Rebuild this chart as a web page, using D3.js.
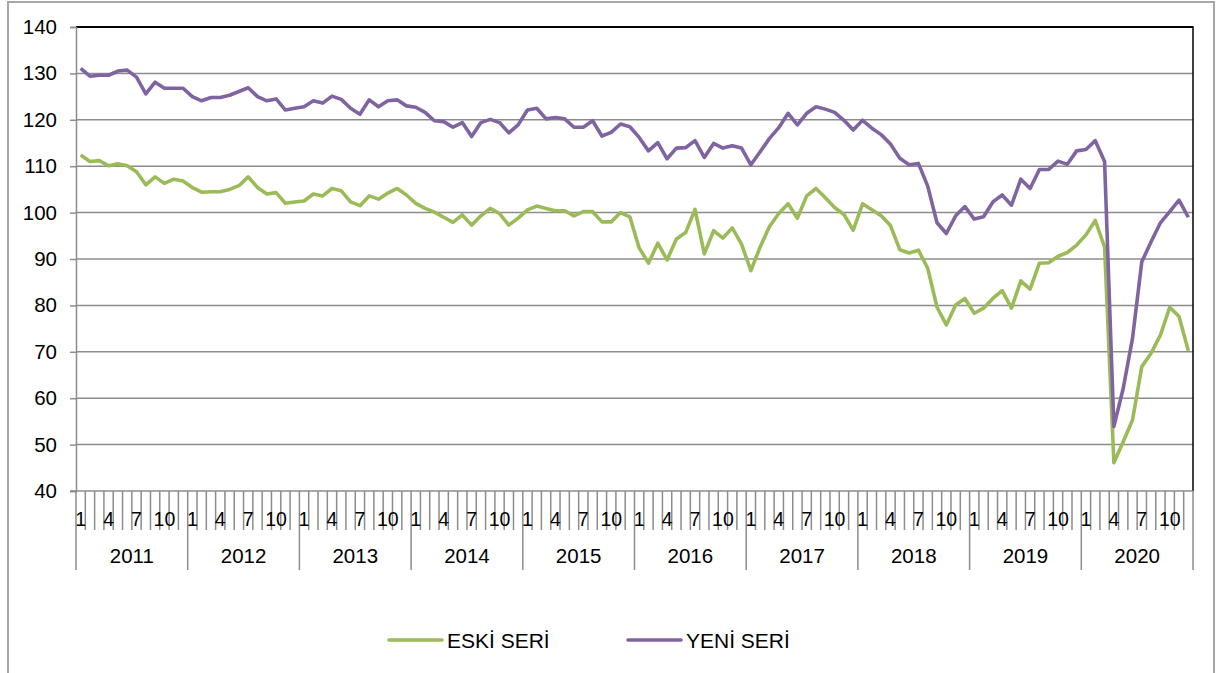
<!DOCTYPE html>
<html>
<head>
<meta charset="utf-8">
<script src="https://cdn.jsdelivr.net/npm/d3@7"></script>
<style>
  body { margin: 0; background: #fff; }
  svg text { font-family: "Liberation Sans", Arial, sans-serif; fill: #000; }
</style>
</head>
<body>
<div id="chart"></div>
<script>
// ||================================||
// || DATA                           ||
// ||================================||

var years = ["2011", "2012", "2013", "2014", "2015", "2016", "2017", "2018", "2019", "2020"];
var monthLabels = ["1", "", "", "4", "", "", "7", "", "", "10", "", ""];
var yTicks = [40, 50, 60, 70, 80, 90, 100, 110, 120, 130, 140];

var eskiSeri = [
  112.4, 111.0, 111.2, 110.1, 110.5, 110.1, 108.8, 106.0, 107.7, 106.3, 107.2, 106.8,
  105.4, 104.4, 104.5, 104.5, 105.0, 105.8, 107.7, 105.4, 104.0, 104.3, 102.0, 102.3,
  102.5, 104.0, 103.6, 105.2, 104.7, 102.3, 101.5, 103.6, 102.9, 104.2, 105.2, 103.8,
  102.0, 100.9, 100.1, 99.0, 97.9, 99.5, 97.3, 99.3, 100.9, 99.8, 97.3, 98.8,
  100.6, 101.4, 100.9, 100.4, 100.4, 99.3, 100.2, 100.2, 98.0, 98.0, 100.0, 99.1,
  92.4, 89.1, 93.4, 89.8, 94.3, 95.7, 100.7, 91.1, 96.1, 94.5, 96.7, 93.2,
  87.5, 92.6, 97.0, 99.8, 101.9, 98.8, 103.6, 105.2, 103.2, 101.1, 99.6, 96.2,
  101.9, 100.6, 99.3, 97.2, 92.0, 91.3, 91.9, 88.0, 79.6, 75.8, 80.1, 81.5,
  78.3, 79.4, 81.5, 83.2, 79.4, 85.3, 83.5, 89.1, 89.2, 90.6, 91.4, 93.0,
  95.2, 98.3, 92.6, 46.1, 50.6, 55.3, 66.8, 69.7, 73.6, 79.6, 77.6, 70.2
];

var yeniSeri = [
  131.1, 129.4, 129.6, 129.6, 130.5, 130.7, 129.2, 125.6, 128.1, 126.8, 126.8, 126.8,
  125.0, 124.1, 124.8, 124.8, 125.3, 126.1, 126.9, 125.0, 124.1, 124.5, 122.1, 122.5,
  122.8, 124.1, 123.6, 125.1, 124.4, 122.5, 121.2, 124.3, 122.8, 124.1, 124.3, 123.0,
  122.7, 121.6, 119.8, 119.6, 118.4, 119.4, 116.4, 119.4, 120.1, 119.4, 117.2, 118.9,
  122.1, 122.5, 120.2, 120.5, 120.2, 118.4, 118.4, 119.8, 116.5, 117.3, 119.1, 118.5,
  116.2, 113.3, 115.1, 111.6, 113.9, 114.0, 115.5, 111.9, 114.9, 113.9, 114.4, 113.9,
  110.3, 113.1, 116.0, 118.3, 121.4, 118.9, 121.4, 122.8, 122.3, 121.6, 119.9, 117.8,
  119.9, 118.2, 116.8, 114.8, 111.7, 110.3, 110.6, 105.7, 97.8, 95.5, 99.3, 101.3,
  98.6, 99.1, 102.3, 103.8, 101.6, 107.2, 105.2, 109.3, 109.3, 111.1, 110.4, 113.3,
  113.6, 115.5, 111.0, 53.9, 62.1, 72.9, 89.4, 93.7, 97.8, 100.2, 102.7, 99.0
];

var seriesNames = ["ESKİ SERİ", "YENİ SERİ"];
var seriesColors = ["#9bbb59", "#8064a2"];

// ||================================||
// || LAYOUT                         ||
// ||================================||

var width = 1218,
    height = 673;

var plot = { left: 76, right: 1193, top: 27, bottom: 491 };

var svg = d3.select("#chart")
  .append("svg")
    .attr("width", width)
    .attr("height", height);

// outer chart border (runs off the bottom of the picture)
svg.append("rect")
    .attr("x", 8)
    .attr("y", 2)
    .attr("width", 1206)
    .attr("height", 700)
    .attr("fill", "none")
    .attr("stroke", "#a6a6a6")
    .attr("stroke-width", 2);

var months = d3.range(eskiSeri.length);

var x = d3.scaleBand()
    .domain(months)
    .range([plot.left, plot.right])
    .padding(0);

var y = d3.scaleLinear()
    .domain([40, 140])
    .range([plot.bottom, plot.top]);

function cx(i) { return x(i) + x.bandwidth() / 2; }

// gridlines
svg.append("g")
  .selectAll("line")
  .data(yTicks.slice(1, -1))
  .enter().append("line")
    .attr("x1", plot.left)
    .attr("x2", plot.right)
    .attr("y1", function(d) { return y(d); })
    .attr("y2", function(d) { return y(d); })
    .attr("stroke", "#8c8c8c")
    .attr("stroke-width", 1.5);

// top / right plot border in black
svg.append("line")
    .attr("x1", plot.left).attr("x2", plot.right + 0.5)
    .attr("y1", plot.top).attr("y2", plot.top)
    .attr("stroke", "#000").attr("stroke-width", 2);
svg.append("line")
    .attr("x1", plot.right).attr("x2", plot.right)
    .attr("y1", plot.top).attr("y2", plot.bottom)
    .attr("stroke", "#000").attr("stroke-width", 1.5);

// y axis
var yAxis = svg.append("g")
    .attr("transform", "translate(" + plot.left + ",0)")
    .call(d3.axisLeft(y).tickValues(yTicks).tickSize(6).tickPadding(13));

yAxis.select(".domain").attr("stroke", "#8c8c8c").attr("stroke-width", 1.5);
yAxis.selectAll(".tick line").attr("stroke", "#8c8c8c").attr("stroke-width", 1.5);
yAxis.selectAll(".tick text")
    .attr("font-size", 20.5)
    .attr("font-family", "Liberation Sans, Arial, sans-serif")
    .attr("fill", "#000");

// x axis: month level
var xAxis = svg.append("g");

xAxis.append("line")
    .attr("x1", plot.left - 6).attr("x2", plot.right)
    .attr("y1", plot.bottom).attr("y2", plot.bottom)
    .attr("stroke", "#8c8c8c").attr("stroke-width", 1.5);

xAxis.selectAll(".mtick")
  .data(months.concat([months.length]))
  .enter().append("line")
    .attr("class", "mtick")
    .attr("x1", function(i) { return i < months.length ? x(i) : plot.right; })
    .attr("x2", function(i) { return i < months.length ? x(i) : plot.right; })
    .attr("y1", plot.bottom)
    .attr("y2", function(i) { return i % 12 == 0 ? 570 : 530; })
    .attr("stroke", "#8c8c8c")
    .attr("stroke-width", 1.5);

xAxis.selectAll(".mlabel")
  .data(months.filter(function(i) { return monthLabels[i % 12] != ""; }))
  .enter().append("text")
    .attr("class", "mlabel")
    .attr("x", function(i) { return cx(i); })
    .attr("y", 526)
    .attr("text-anchor", "middle")
    .attr("font-size", 19.5)
    .text(function(i) { return monthLabels[i % 12]; });

// x axis: year level
xAxis.selectAll(".ylabel")
  .data(years)
  .enter().append("text")
    .attr("class", "ylabel")
    .attr("x", function(d, k) { return (x(k * 12) + x(k * 12 + 11) + x.bandwidth()) / 2; })
    .attr("y", 563)
    .attr("text-anchor", "middle")
    .attr("font-size", 20.5)
    .text(function(d) { return d; });

// ||================================||
// || LINES                          ||
// ||================================||

var line = d3.line()
    .x(function(d, i) { return cx(i); })
    .y(function(d) { return y(d); });

[eskiSeri, yeniSeri].forEach(function(s, k) {
  svg.append("path")
      .datum(s)
      .attr("d", line)
      .attr("fill", "none")
      .attr("stroke", seriesColors[k])
      .attr("stroke-width", 3.6)
      .attr("stroke-linejoin", "round");
});

// ||================================||
// || LEGEND                         ||
// ||================================||

var legendX = [389, 628];

var legend = svg.selectAll(".legend")
  .data(seriesNames)
  .enter().append("g")
    .attr("class", "legend")
    .attr("transform", function(d, k) { return "translate(" + legendX[k] + ",640)"; });

legend.append("line")
    .attr("x1", 0).attr("x2", 53)
    .attr("y1", 0).attr("y2", 0)
    .attr("stroke", function(d, k) { return seriesColors[k]; })
    .attr("stroke-width", 3.6)
    .attr("stroke-linecap", "round");

legend.append("text")
    .attr("x", 58)
    .attr("y", 8)
    .attr("font-size", 21)
    .text(function(d) { return d; });
</script>
</body>
</html>
